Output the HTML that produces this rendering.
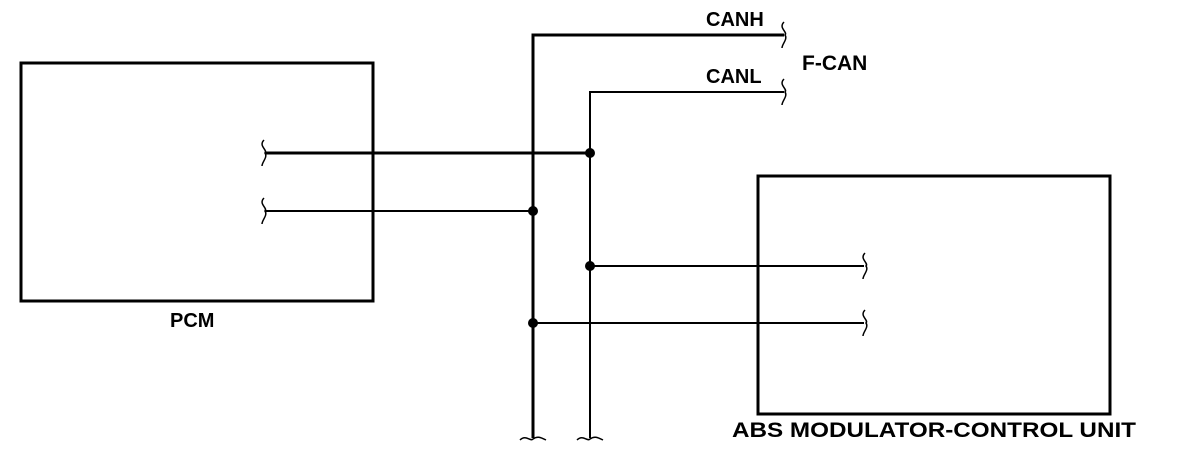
<!DOCTYPE html>
<html><head><style>
html,body{margin:0;padding:0;background:#fff;}
svg{display:block;}
text{font-family:"Liberation Sans",Arial,sans-serif;font-weight:bold;fill:#000;}
</style></head><body>
<svg width="1184" height="470" viewBox="0 0 1184 470" xmlns="http://www.w3.org/2000/svg">
<g fill="none" stroke="#000">
<rect x="21" y="63" width="352" height="238" stroke-width="3"/>
<rect x="758" y="176" width="352" height="238" stroke-width="3"/>
<!-- CANH -->
<polyline points="533,438 533,35 784,35" stroke-width="3"/>
<!-- CANL -->
<polyline points="590,438 590,92 784,92" stroke-width="2"/>
<line x1="265" y1="153" x2="590" y2="153" stroke-width="3"/>
<line x1="265" y1="211" x2="533" y2="211" stroke-width="2"/>
<line x1="590" y1="266" x2="864" y2="266" stroke-width="2"/>
<line x1="533" y1="323" x2="864" y2="323" stroke-width="2"/>
<g stroke-width="1.5">
<path d="M264,140 C258,146 268,150 265,153 C268,157 262,162 262,166"/>
<path d="M264,198 C258,204 268,208 265,211 C268,215 262,220 262,224"/>
<path d="M865,253 C859,259 869,263 866,266 C869,270 863,275 863,279"/>
<path d="M865,310 C859,316 869,320 866,323 C869,327 863,332 863,336"/>
<path d="M784,22 C778,28 788,32 785,35 C788,39 782,44 782,48"/>
<path d="M784,79 C778,85 788,89 785,92 C788,96 782,101 782,105"/>
<path d="M520,440 C526,434 530,442 533,439 C537,436 540,437 546,440"/>
<path d="M577,440 C583,434 587,442 590,439 C594,436 597,437 603,440"/>
</g>
</g>
<g fill="#000">
<circle cx="590" cy="153" r="5"/>
<circle cx="533" cy="211" r="5"/>
<circle cx="590" cy="266" r="5"/>
<circle cx="533" cy="323" r="5"/>
</g>
<text x="706" y="26" font-size="20">CANH</text>
<text x="706" y="83" font-size="20">CANL</text>
<text x="802" y="70" font-size="21">F-CAN</text>
<text x="170" y="327" font-size="20">PCM</text>
<text x="732" y="437" font-size="21" textLength="404" lengthAdjust="spacingAndGlyphs">ABS MODULATOR-CONTROL UNIT</text>
</svg>
</body></html>
